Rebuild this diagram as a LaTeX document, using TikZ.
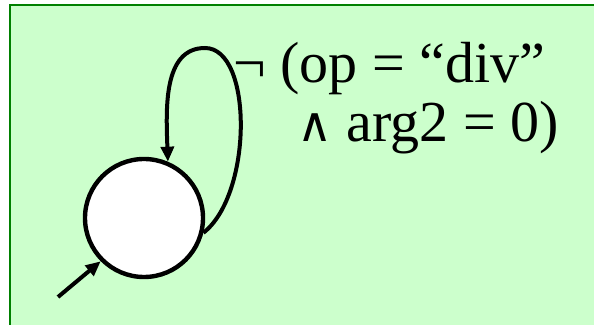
\documentclass[tikz,border=0pt]{standalone}
\usepackage{fontspec}
\setmainfont{Liberation Serif}
\newfontfamily\symbfont{DejaVu Sans}
\usetikzlibrary{arrows.meta}
\definecolor{paleGreen}{RGB}{204,255,204}
\definecolor{frameGreen}{RGB}{0,128,0}
\tikzset{
  state/.style={circle,draw,fill=white,line width=4.4pt,minimum size=118pt,inner sep=0pt},
  trans/.style={line width=4pt,-{Triangle[length=15pt,width=13pt]}},
  guard/.style={anchor=base west,inner sep=0pt,font=\fontsize{58}{68}\selectfont}
}
\begin{document}
\begin{tikzpicture}[x=1pt,y=1pt]
  \useasboundingbox (0,0) rectangle (594,324);
  \fill[white] (0,0) rectangle (594,324);
  \draw[frameGreen,fill=paleGreen,line width=2pt] (9.5,-10) rectangle (610,318.5);
  % the single state, entered from below left
  \node[state] (s) at (144,106) {};
  \coordinate (start) at (58,27);
  \coordinate (top) at (205,276);
  \draw[trans] (start) -- (s.225);
  % self loop
  \draw[trans] (s.-14) .. controls (253,130) and (253,276) .. (top)
    .. controls (163,276) and (166,215) .. (s.67);
  \node[guard] (neg) at (233,241) {¬ (op = “div”};
  \node[guard] (conj) at (297,182) {{\symbfont\fontsize{48}{56}\selectfont ∧} arg2 = 0)};
\end{tikzpicture}
\end{document}
